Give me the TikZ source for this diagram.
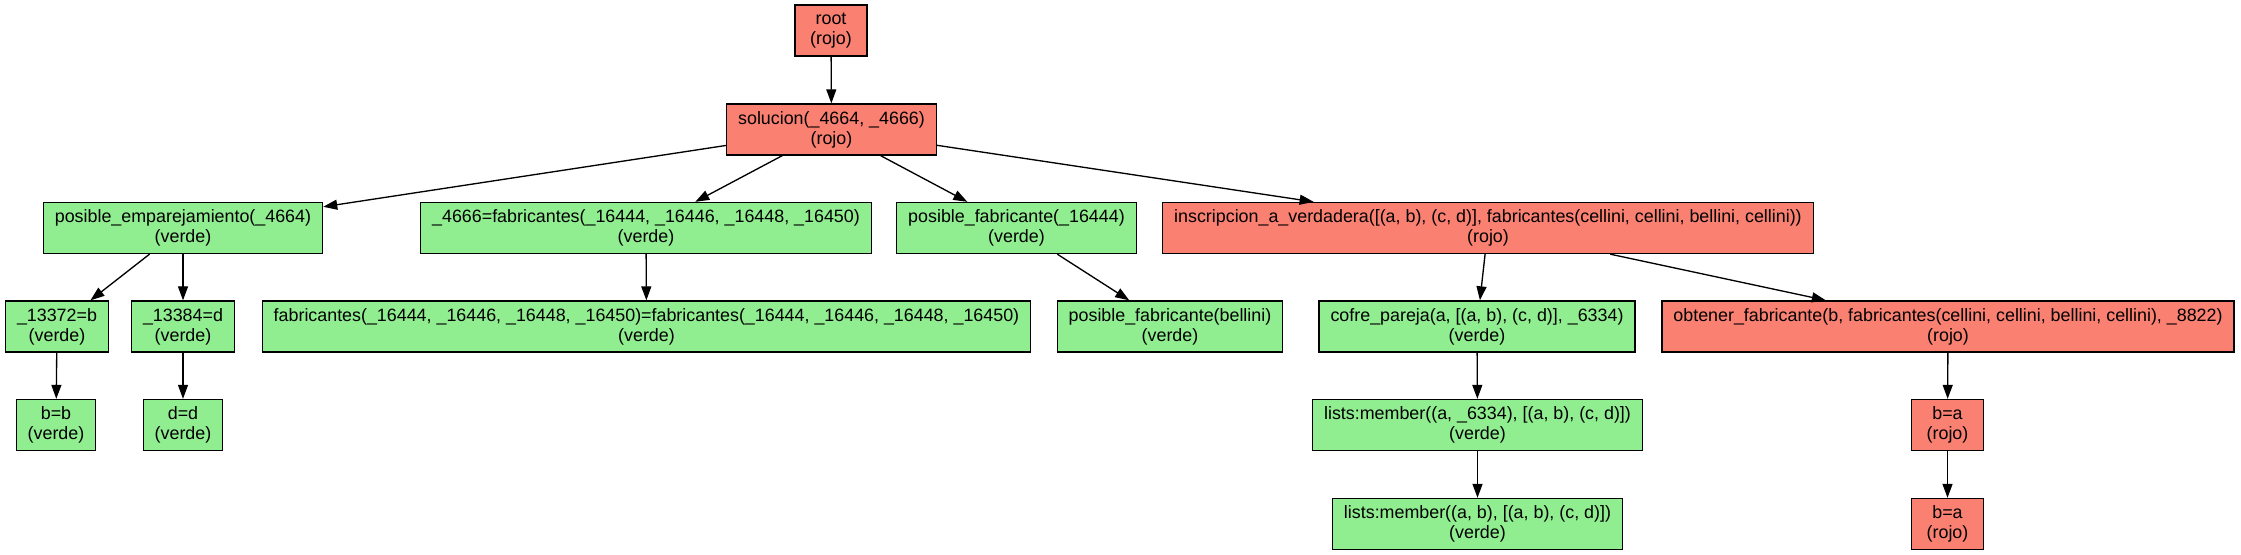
\documentclass[tikz,border=0pt]{standalone}
\usepackage{fontspec}
\setmainfont{Liberation Sans}
\usetikzlibrary{arrows.meta}
\definecolor{salmon}{HTML}{FA8072}
\definecolor{lightgreen}{HTML}{90EE90}
\begin{document}
\begin{tikzpicture}[x=0.75pt, y=-0.75pt, >={Triangle[length=10.5pt,width=7.5pt]},
    every node/.style={font=\fontsize{13.4}{15}\selectfont},
    caja/.style={draw, line width=1pt, align=center, inner xsep=8.6pt, inner ysep=2pt,
      minimum width=54pt, minimum height=38.25pt},
    rojo/.style={caja, fill=salmon},
    verde/.style={caja, fill=lightgreen}]
    \useasboundingbox (0,0) rectangle (2241,555);
    % niveles 1 y 2
    \node[rojo] (root) at (831,30.5) {root\\(rojo)};
    \node[rojo] (sol) at (831.5,129.5) {solucion(\_4664, \_4666)\\(rojo)};
    % nivel 3
    \node[verde] (emp) at (183,228) {posible\_emparejamiento(\_4664)\\(verde)};
    \node[verde] (fab) at (646,228) {\_4666=fabricantes(\_16444, \_16446, \_16448, \_16450)\\(verde)};
    \node[verde] (posfab) at (1016.5,228) {posible\_fabricante(\_16444)\\(verde)};
    \node[rojo] (insc) at (1488,228) {inscripcion\_a\_verdadera([(a, b), (c, d)], fabricantes(cellini, cellini, bellini, cellini))\\(rojo)};
    % nivel 4
    \node[verde] (v13372) at (57,326.5) {\_13372=b\\(verde)};
    \node[verde] (v13384) at (183,326.5) {\_13384=d\\(verde)};
    \node[verde] (fabeq) at (646.5,326.5) {fabricantes(\_16444, \_16446, \_16448, \_16450)=fabricantes(\_16444, \_16446, \_16448, \_16450)\\(verde)};
    \node[verde] (posbel) at (1170,326.5) {posible\_fabricante(bellini)\\(verde)};
    \node[verde] (cofre) at (1477,326.5) {cofre\_pareja(a, [(a, b), (c, d)], \_6334)\\(verde)};
    \node[rojo] (obt) at (1948,326.5) {obtener\_fabricante(b, fabricantes(cellini, cellini, bellini, cellini), \_8822)\\(rojo)};
    % nivel 5
    \node[verde] (bb) at (56,425) {b=b\\(verde)};
    \node[verde] (dd) at (183,425) {d=d\\(verde)};
    \node[verde] (mem1) at (1477.5,425) {lists:member((a, \_6334), [(a, b), (c, d)])\\(verde)};
    \node[rojo] (ba1) at (1947.5,425) {b=a\\(rojo)};
    % nivel 6
    \node[verde] (mem2) at (1477.5,524) {lists:member((a, b), [(a, b), (c, d)])\\(verde)};
    \node[rojo] (ba2) at (1947.5,524) {b=a\\(rojo)};
    % aristas
    \foreach \a/\b in {root/sol, sol/emp, sol/fab, sol/posfab, sol/insc,
        emp/v13372, emp/v13384, fab/fabeq, posfab/posbel, insc/cofre, insc/obt,
        v13372/bb, v13384/dd, cofre/mem1, obt/ba1, mem1/mem2, ba1/ba2}
      \draw[->, line width=1pt] (\a) -- (\b);
  \end{tikzpicture}
\end{document}
